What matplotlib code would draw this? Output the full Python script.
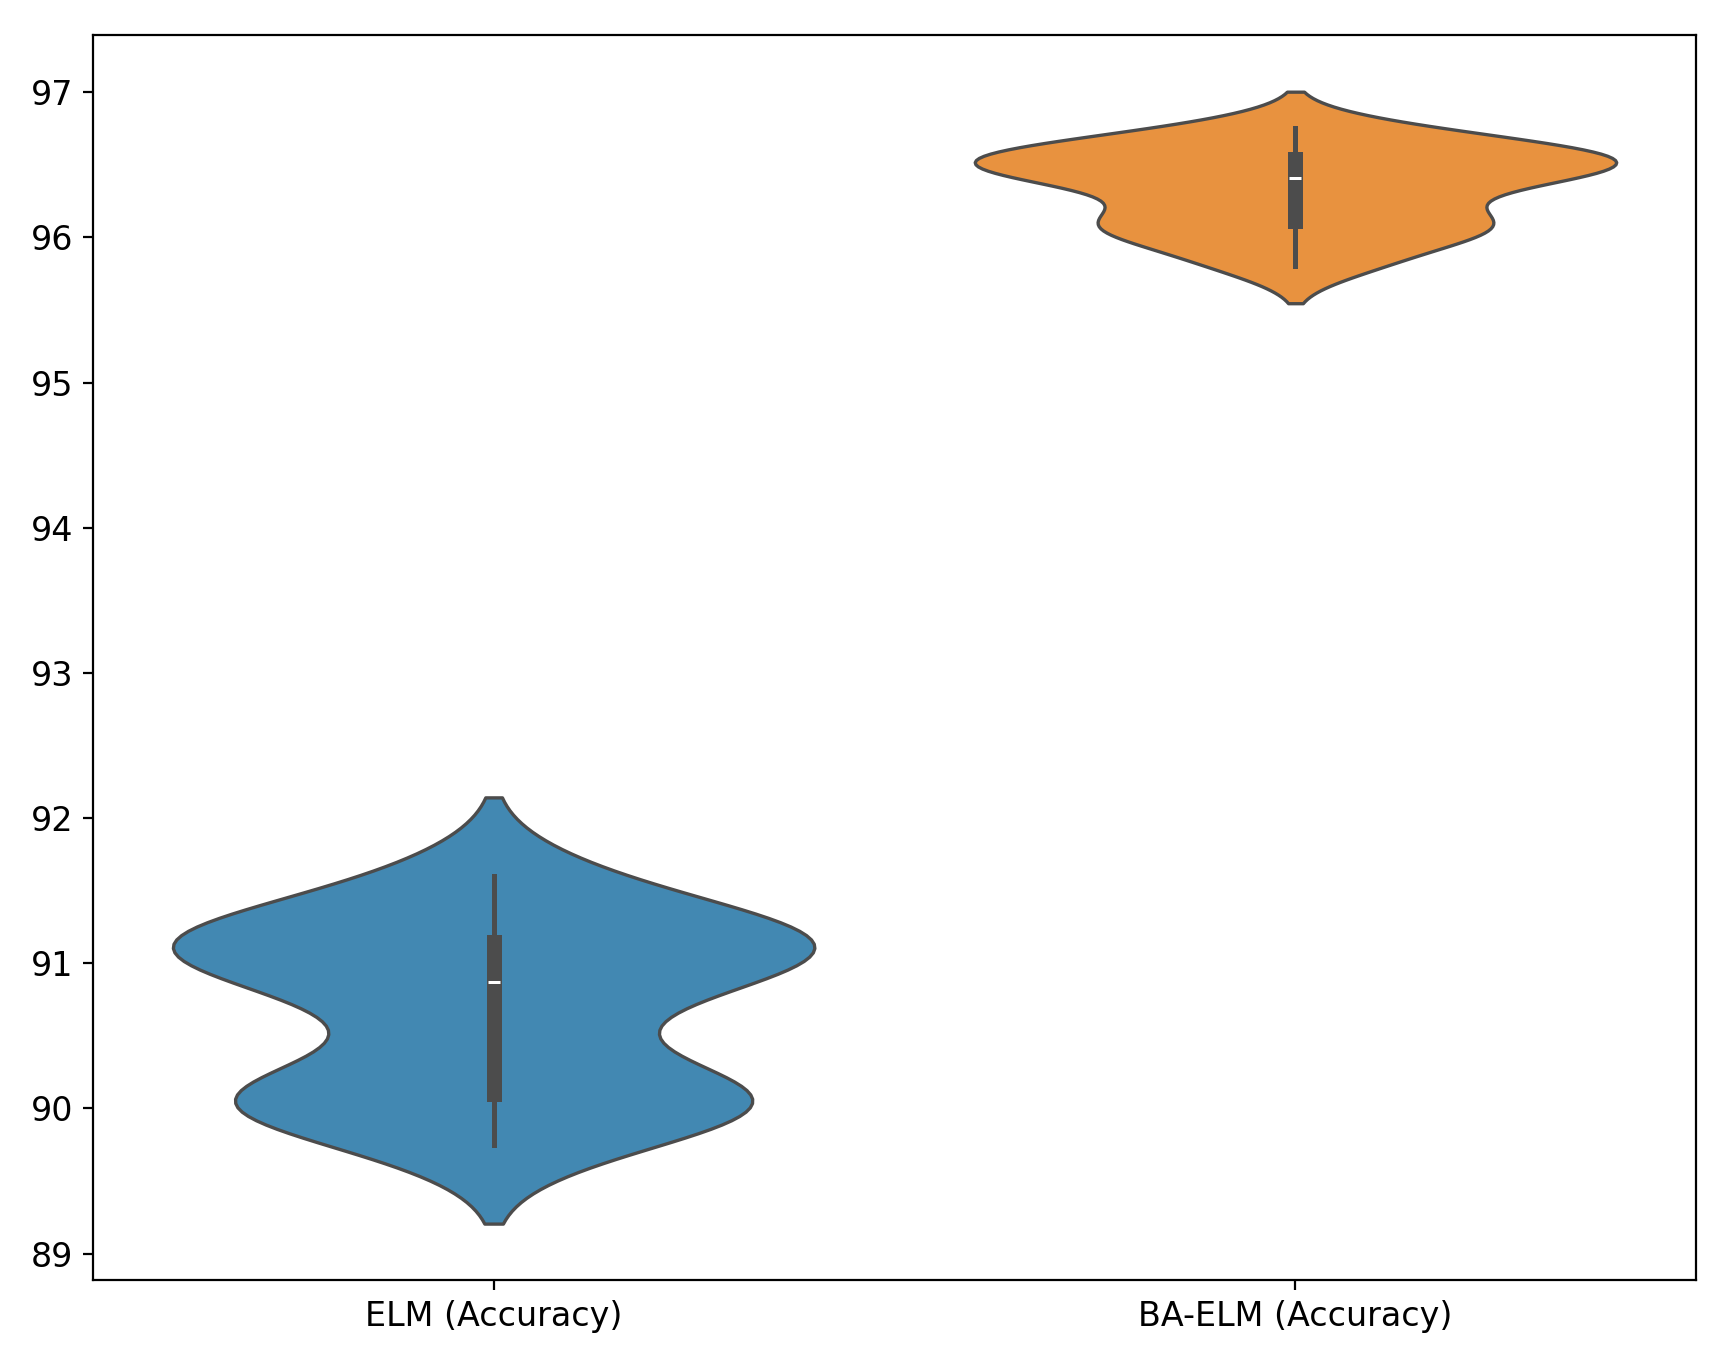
import matplotlib
matplotlib.use("Agg")
import matplotlib.pyplot as plt
import pandas as pd
import seaborn as sns

CATEGORIES = ["ELM (Accuracy)", "BA-ELM (Accuracy)"]
ELM_VALUES = [89.75, 90.0, 90.05, 90.1, 90.15, 90.6, 90.87, 91.0, 91.1, 91.15, 91.2, 91.3, 91.6]
BA_ELM_VALUES = [95.8, 95.95, 96.05, 96.1, 96.15, 96.3, 96.4, 96.42, 96.5, 96.52, 96.55, 96.6, 96.65, 96.75]

frame = pd.DataFrame({
    CATEGORIES[0]: pd.Series(ELM_VALUES),
    CATEGORIES[1]: pd.Series(BA_ELM_VALUES),
})

fig, ax = plt.subplots(figsize=(8.585, 6.745), dpi=200)
sns.violinplot(data=frame, ax=ax, palette=["#4288b2", "#e8923f"], saturation=1,
               linewidth=1.2, linecolor="#4c4c4c", density_norm="area", bw_adjust=0.75)
ax.set_yticks(range(89, 98))
ax.tick_params(labelsize=12)
fig.subplots_adjust(left=0.054, right=0.988, top=0.974, bottom=0.051)
fig.savefig("out.png")
